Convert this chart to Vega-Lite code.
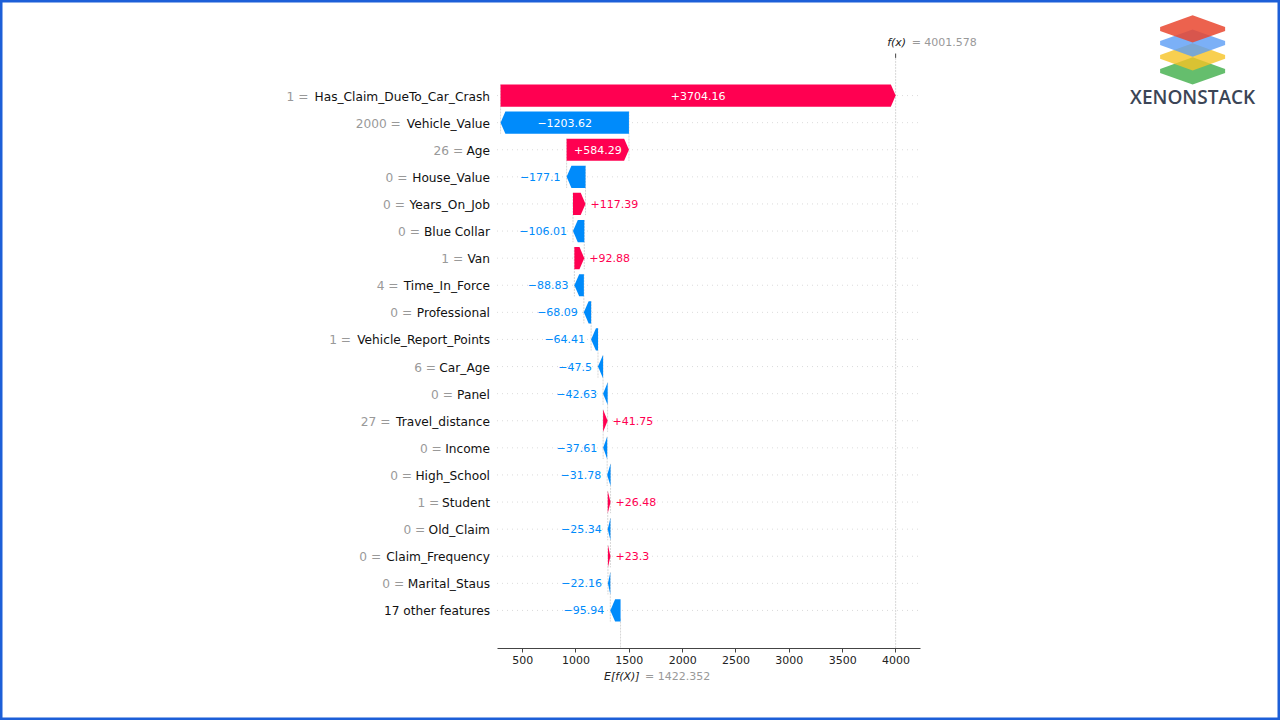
{
  "$schema": "https://vega.github.io/schema/vega-lite/v6.json",
  "width": 1280,
  "height": 720,
  "autosize": {"type": "none"},
  "padding": 0,
  "background": "#ffffff",
  "config": {"view": {"stroke": "#1d5fd8", "strokeWidth": 5}, "font": "DejaVu Sans"},
  "datasets": {
    "shap": [
      {"feature": "Has_Claim_DueTo_Car_Crash", "fval": "1", "shap": 3704.16, "start": 297.42, "end": 4001.58},
      {"feature": "Vehicle_Value", "fval": "2000", "shap": -1203.62, "start": 1501.04, "end": 297.42},
      {"feature": "Age", "fval": "26", "shap": 584.29, "start": 916.75, "end": 1501.04},
      {"feature": "House_Value", "fval": "0", "shap": -177.1, "start": 1093.85, "end": 916.75},
      {"feature": "Years_On_Job", "fval": "0", "shap": 117.39, "start": 976.46, "end": 1093.85},
      {"feature": "Blue Collar", "fval": "0", "shap": -106.01, "start": 1082.47, "end": 976.46},
      {"feature": "Van", "fval": "1", "shap": 92.88, "start": 989.59, "end": 1082.47},
      {"feature": "Time_In_Force", "fval": "4", "shap": -88.83, "start": 1078.42, "end": 989.59},
      {"feature": "Professional", "fval": "0", "shap": -68.09, "start": 1146.51, "end": 1078.42},
      {"feature": "Vehicle_Report_Points", "fval": "1", "shap": -64.41, "start": 1210.92, "end": 1146.51},
      {"feature": "Car_Age", "fval": "6", "shap": -47.5, "start": 1258.42, "end": 1210.92},
      {"feature": "Panel", "fval": "0", "shap": -42.63, "start": 1301.05, "end": 1258.42},
      {"feature": "Travel_distance", "fval": "27", "shap": 41.75, "start": 1259.30, "end": 1301.05},
      {"feature": "Income", "fval": "0", "shap": -37.61, "start": 1296.91, "end": 1259.30},
      {"feature": "High_School", "fval": "0", "shap": -31.78, "start": 1328.69, "end": 1296.91},
      {"feature": "Student", "fval": "1", "shap": 26.48, "start": 1302.21, "end": 1328.69},
      {"feature": "Old_Claim", "fval": "0", "shap": -25.34, "start": 1327.55, "end": 1302.21},
      {"feature": "Claim_Frequency", "fval": "0", "shap": 23.3, "start": 1304.25, "end": 1327.55},
      {"feature": "Marital_Staus", "fval": "0", "shap": -22.16, "start": 1326.41, "end": 1304.25},
      {"feature": "17 other features", "fval": "", "shap": -95.94, "start": 1422.35, "end": 1326.41}
    ]
  },
  "data": {"name": "shap"},
  "transform": [
    {"window": [{"op": "row_number", "as": "rn"}]},
    {"calculate": "datum.rn - 1", "as": "i"},
    {"calculate": "(datum.shap > 0 ? '+' : '\u2212') + abs(datum.shap)", "as": "lbl"}
  ],
  "layer": [
    {
      "mark": {"type": "rule", "color": "#cccccc", "strokeWidth": 0.7, "strokeDash": [1, 4]},
      "encoding": {
        "x": {"datum": 264, "type": "quantitative", "scale": {"domain": [264, 4230], "range": [497, 920], "nice": false, "zero": false},
          "axis": {"values": [500, 1000, 1500, 2000, 2500, 3000, 3500, 4000], "format": "d", "title": null, "grid": false, "offset": -72, "domainColor": "#444444", "domainWidth": 1, "tickColor": "#444444", "tickSize": 4, "labelFontSize": 11, "labelColor": "#222222", "labelFont": "DejaVu Sans", "labelPadding": 2}},
        "x2": {"datum": 4230},
        "y": {"field": "i", "type": "quantitative", "scale": {"domain": [-0.5, 19.5], "range": [82, 624], "nice": false, "zero": false}, "axis": null}
      }
    },
    {
      "transform": [
        {"filter": "datum.i < 19"},
        {"calculate": "datum.i - 0.41", "as": "ya"},
        {"calculate": "datum.i + 1.41", "as": "yb"}
      ],
      "mark": {"type": "rule", "color": "#bbbbbb", "strokeWidth": 0.6, "strokeDash": [2, 1]},
      "encoding": {
        "x": {"field": "start", "type": "quantitative"},
        "y": {"field": "ya", "type": "quantitative", "axis": null},
        "y2": {"field": "yb"}
      }
    },
    {
      "data": {"values": [{}]},
      "mark": {"type": "rule", "color": "#bbbbbb", "strokeWidth": 0.6, "strokeDash": [2, 1]},
      "encoding": {
        "x": {"datum": 1422.352, "type": "quantitative"},
        "y": {"datum": 19.3, "type": "quantitative", "axis": null},
        "y2": {"datum": 20.39}
      }
    },
    {
      "data": {"values": [{}]},
      "mark": {"type": "rule", "color": "#bbbbbb", "strokeWidth": 0.6, "strokeDash": [2, 1]},
      "encoding": {
        "x": {"datum": 4001.578, "type": "quantitative"},
        "y": {"datum": -1.39, "type": "quantitative", "axis": null},
        "y2": {"datum": 20.39}
      }
    },
    {
      "data": {"values": [{}]},
      "mark": {"type": "rule", "color": "#444444", "strokeWidth": 1},
      "encoding": {
        "x": {"datum": 4001.578, "type": "quantitative"},
        "y": {"datum": -1.55, "type": "quantitative", "axis": null},
        "y2": {"datum": -1.39}
      }
    },
    {
      "transform": [
        {"calculate": "datum.shap > 0 ? 1 : -1", "as": "sgn"},
        {"calculate": "abs(datum.shap) > 45 ? datum.end - datum.sgn * 45 : datum.start", "as": "bodyEnd"},
        {"calculate": "datum.bodyEnd", "as": "pTop"},
        {"calculate": "datum.end", "as": "pMid"},
        {"calculate": "datum.bodyEnd", "as": "pBot"},
        {"fold": ["pTop", "pMid", "pBot"], "as": ["k", "xv"]},
        {"calculate": "datum.i + (datum.k == 'pTop' ? -0.41 : (datum.k == 'pBot' ? 0.41 : 0))", "as": "yy"}
      ],
      "mark": {"type": "area", "orient": "horizontal", "opacity": 1},
      "encoding": {
        "x": {"field": "start", "type": "quantitative", "stack": null},
        "x2": {"field": "xv"},
        "y": {"field": "yy", "type": "quantitative", "stack": null, "axis": null},
        "detail": {"field": "feature"},
        "color": {"condition": {"test": "datum.shap > 0", "value": "#ff0051"}, "value": "#008bfb"}
      }
    },
    {
      "transform": [
        {"filter": "abs(datum.shap) > 500"},
        {"calculate": "(datum.start + datum.end) / 2", "as": "mid"}
      ],
      "mark": {"type": "text", "color": "#ffffff", "fontSize": 11, "align": "center", "baseline": "middle", "dy": 1},
      "encoding": {
        "x": {"field": "mid", "type": "quantitative"},
        "y": {"field": "i", "type": "quantitative", "axis": null},
        "text": {"field": "lbl"}
      }
    },
    {
      "transform": [{"filter": "abs(datum.shap) <= 500 && datum.shap > 0"}],
      "mark": {"type": "text", "color": "#ff0051", "fontSize": 11, "align": "left", "baseline": "middle", "dx": 5, "dy": 1},
      "encoding": {
        "x": {"field": "end", "type": "quantitative"},
        "y": {"field": "i", "type": "quantitative", "axis": null},
        "text": {"field": "lbl"}
      }
    },
    {
      "transform": [{"filter": "abs(datum.shap) <= 500 && datum.shap < 0"}],
      "mark": {"type": "text", "color": "#008bfb", "fontSize": 11, "align": "right", "baseline": "middle", "dx": -6, "dy": 1},
      "encoding": {
        "x": {"field": "end", "type": "quantitative"},
        "y": {"field": "i", "type": "quantitative", "axis": null},
        "text": {"field": "lbl"}
      }
    },
    {
      "mark": {"type": "text", "color": "#111111", "fontSize": 12.2, "align": "right", "baseline": "middle", "dx": -7, "dy": 1},
      "encoding": {
        "x": {"datum": 264, "type": "quantitative"},
        "y": {"field": "i", "type": "quantitative", "axis": null},
        "text": {"field": "feature"}
      }
    },
    {
      "transform": [
        {"filter": "datum.fval != ''"},
        {"calculate": "12.2 * (0.29*length(replace(datum.feature, regexp('[^ijlIJ]','g'), '')) + 0.352*length(replace(datum.feature, regexp('[^f]','g'), '')) + 0.392*length(replace(datum.feature, regexp('[^t]','g'), '')) + 0.411*length(replace(datum.feature, regexp('[^r]','g'), '')) + 0.318*length(replace(datum.feature, regexp('[^ ]','g'), '')) + 0.5*length(replace(datum.feature, regexp('[^_]','g'), '')) + 0.521*length(replace(datum.feature, regexp('[^s]','g'), '')) + 0.55*length(replace(datum.feature, regexp('[^cz]','g'), '')) + 0.59*length(replace(datum.feature, regexp('[^vxyk]','g'), '')) + 0.625*length(replace(datum.feature, regexp('[^abdeghnopqu]','g'), '')) + 0.974*length(replace(datum.feature, regexp('[^m]','g'), '')) + 0.818*length(replace(datum.feature, regexp('[^w]','g'), '')) + 0.636*length(replace(datum.feature, regexp('[^0-9]','g'), '')) + 0.76*length(replace(datum.feature, regexp('[^DGHNOQU]','g'), '')) + 0.863*length(replace(datum.feature, regexp('[^M]','g'), '')) + 0.69*length(replace(datum.feature, regexp('[^ABCRV]','g'), '')) + 0.61*length(replace(datum.feature, regexp('[^EFPSTYLK]','g'), '')))", "as": "nw"},
        {"calculate": "264 - (10.2 + datum.nw) / 0.106657", "as": "px"},
        {"calculate": "datum.fval + ' ='", "as": "pre"}
      ],
      "mark": {"type": "text", "color": "#999999", "fontSize": 12.2, "align": "right", "baseline": "middle", "dy": 1},
      "encoding": {
        "x": {"field": "px", "type": "quantitative"},
        "y": {"field": "i", "type": "quantitative", "axis": null},
        "text": {"field": "pre"}
      }
    },
    {
      "data": {"values": [{}]},
      "mark": {"type": "text", "color": "#222222", "fontSize": 11, "fontStyle": "italic", "align": "right", "baseline": "middle", "dx": 10.5},
      "encoding": {
        "x": {"datum": 4001.578, "type": "quantitative"},
        "y": {"datum": -1.94, "type": "quantitative", "axis": null},
        "text": {"value": "f(x)"}
      }
    },
    {
      "data": {"values": [{}]},
      "mark": {"type": "text", "color": "#999999", "fontSize": 11, "align": "left", "baseline": "middle", "dx": 16},
      "encoding": {
        "x": {"datum": 4001.578, "type": "quantitative"},
        "y": {"datum": -1.94, "type": "quantitative", "axis": null},
        "text": {"value": "= 4001.578"}
      }
    },
    {
      "data": {"values": [{}]},
      "mark": {"type": "text", "color": "#222222", "fontSize": 11, "fontStyle": "italic", "align": "right", "baseline": "middle", "dx": 19},
      "encoding": {
        "x": {"datum": 1422.352, "type": "quantitative"},
        "y": {"datum": 21.46, "type": "quantitative", "axis": null},
        "text": {"value": "E[f(X)]"}
      }
    },
    {
      "data": {"values": [{}]},
      "mark": {"type": "text", "color": "#999999", "fontSize": 11, "align": "left", "baseline": "middle", "dx": 24.5},
      "encoding": {
        "x": {"datum": 1422.352, "type": "quantitative"},
        "y": {"datum": 21.46, "type": "quantitative", "axis": null},
        "text": {"value": "= 1422.352"}
      }
    },
    {
      "data": {"values": [{}]},
      "mark": {"type": "point", "filled": true, "shape": "M -1 0 L 0 -0.36 L 1 0 L 1 0.12 L 0 0.48 L -1 0.12 Z", "size": 4225, "color": "#3fae49", "opacity": 0.8},
      "encoding": {
        "x": {"datum": 6786, "type": "quantitative"},
        "y": {"datum": -0.98, "type": "quantitative", "axis": null}
      }
    },
    {
      "data": {"values": [{}]},
      "mark": {"type": "point", "filled": true, "shape": "M -1 0 L 0 -0.36 L 1 0 L 1 0.12 L 0 0.48 L -1 0.12 Z", "size": 4225, "color": "#f6c324", "opacity": 0.8},
      "encoding": {
        "x": {"datum": 6786, "type": "quantitative"},
        "y": {"datum": -1.5, "type": "quantitative", "axis": null}
      }
    },
    {
      "data": {"values": [{}]},
      "mark": {"type": "point", "filled": true, "shape": "M -1 0 L 0 -0.36 L 1 0 L 1 0.12 L 0 0.48 L -1 0.12 Z", "size": 4225, "color": "#5a9cf5", "opacity": 0.8},
      "encoding": {
        "x": {"datum": 6786, "type": "quantitative"},
        "y": {"datum": -2.01, "type": "quantitative", "axis": null}
      }
    },
    {
      "data": {"values": [{}]},
      "mark": {"type": "point", "filled": true, "shape": "M -1 0 L 0 -0.36 L 1 0 L 1 0.12 L 0 0.48 L -1 0.12 Z", "size": 4225, "color": "#e9472f", "opacity": 0.85},
      "encoding": {
        "x": {"datum": 6786, "type": "quantitative"},
        "y": {"datum": -2.53, "type": "quantitative", "axis": null}
      }
    },
    {
      "data": {"values": [{}]},
      "mark": {"type": "text", "color": "#3b4556", "font": "Open Sans", "fontSize": 19, "fontWeight": 600, "align": "center", "baseline": "middle"},
      "encoding": {
        "x": {"datum": 6786, "type": "quantitative"},
        "y": {"datum": 0.09, "type": "quantitative", "axis": null},
        "text": {"value": "XENONSTACK"}
      }
    }
  ]
}
